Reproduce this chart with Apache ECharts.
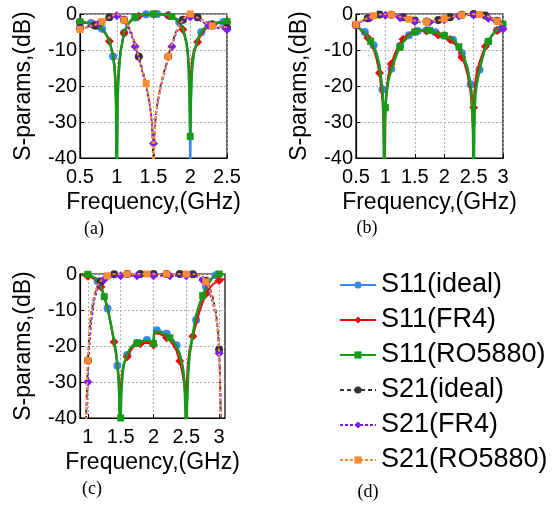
<!DOCTYPE html>
<html><head><meta charset="utf-8">
<script src="https://cdn.jsdelivr.net/npm/echarts@6/dist/echarts.min.js"></script>
<style>html,body{margin:0;padding:0;background:#fff}#c{width:555px;height:506px}</style>
</head><body><div id="c"></div>
<script>
// ---------- names & tick labels ----------
const NAMES = ['S11(ideal)','S11(FR4)','S11(RO5880)','S21(ideal)','S21(FR4)','S21(RO5880)'];
const ticksXA = [0.5,1,1.5,2,2.5];
const ticksXB = [0.5,1,1.5,2,2.5,3];
const ticksXC = [1,1.5,2,2.5,3];
const ticksY = [-40,-30,-20,-10,0];

// ---------- panel (a) ----------
const fA = [0.5,0.55,0.6,0.65,0.7,0.75,0.8,0.85,0.9,0.95, 0.97,0.98,0.99, 1.0, 1.01,1.02,1.03, 1.05,1.1,1.15,1.2,1.25,1.3,1.35,1.4,1.45, 1.47,1.48,1.49, 1.5, 1.51,1.52,1.53, 1.55,1.6,1.65,1.7,1.75,1.8,1.85,1.9,1.95, 1.97,1.98,1.99, 2.0, 2.01,2.02,2.03, 2.05,2.1,2.15,2.2,2.25,2.3,2.35,2.4,2.45,2.5];
const a_s11_ideal = [-2.2,-2.3,-2.4,-2.5,-2.9,-3.4,-4.1,-5.4,-7.4,-11.8, -15.5,-19,-26, -52, -26,-19.5,-16, -11,-5.2,-2.9,-1.7,-1.0,-0.5,-0.25,-0.1,0, 0,0,0, 0, 0,0,0, 0,-0.05,-0.15,-0.35,-0.7,-1.2,-2.2,-3.9,-8, -12,-16,-24, -52, -24,-17.5,-14.5, -11,-7.2,-5.1,-3.9,-3.2,-2.8,-2.5,-2.35,-2.25,-2.2];
const a_s11_fr4 = [-2.3,-2.4,-2.5,-2.7,-3.0,-3.5,-4.3,-5.6,-7.6,-11.5, -14.5,-17,-21, -42, -22,-17.5,-14.5, -10.5,-5.3,-3.0,-1.8,-1.1,-0.6,-0.35,-0.2,-0.1, -0.1,-0.1,-0.1, -0.1, -0.1,-0.1,-0.1, -0.1,-0.15,-0.25,-0.45,-0.8,-1.4,-2.5,-4.3,-8.3, -11.5,-14,-17, -20, -17,-14,-12, -10.2,-7.8,-5.6,-4.3,-3.5,-3.0,-2.7,-2.5,-2.4,-2.3];
const a_s11_ro = [-2.2,-2.3,-2.4,-2.6,-2.9,-3.4,-4.1,-5.4,-7.4,-11.6, -15,-18.5,-25, -55, -25,-19,-15.5, -10.8,-5.1,-2.8,-1.6,-0.9,-0.45,-0.2,-0.1,0, 0,0,0, 0, 0,0,0, 0,-0.05,-0.15,-0.35,-0.7,-1.2,-2.2,-3.9,-8, -12,-16,-23, -34, -23,-17,-14, -10.8,-7,-5,-3.8,-3.1,-2.7,-2.4,-2.3,-2.2,-2.1];
const a_s21_ideal = [-3.9,-3.7,-3.5,-3.4,-3.2,-2.7,-2.1,-1.5,-0.9,-0.4, -0.25,-0.15,-0.1, -0.1, -0.15,-0.2,-0.3, -0.6,-1.6,-3.1,-5.2,-8.2,-11.8,-15.5,-19.5,-25, -28.5,-31,-36, -55, -36,-31,-28.5, -25,-19.5,-15.5,-11.8,-8.2,-5.2,-3.1,-1.6,-0.6, -0.3,-0.2,-0.15, -0.1, -0.15,-0.2,-0.3, -0.5,-0.9,-1.5,-2.1,-2.7,-3.2,-3.4,-3.5,-3.7,-3.9];
const a_s21_fr4 = [-4.1,-3.9,-3.7,-3.5,-3.2,-2.8,-2.3,-1.7,-1.1,-0.7, -0.55,-0.5,-0.5, -0.5, -0.55,-0.6,-0.7, -1.0,-2.0,-3.6,-5.8,-9.0,-12.5,-16.2,-20.2,-25.5, -28.5,-31,-34, -36, -34,-31,-28.5, -25.5,-20.2,-16.2,-12.5,-9.0,-5.8,-3.6,-2.0,-1.1, -0.9,-0.8,-0.8, -0.8, -0.85,-0.9,-0.95, -1.0,-1.4,-2.0,-2.6,-3.1,-3.6,-3.8,-4.0,-4.1,-4.3];
const a_s21_ro = [-4.3,-4.0,-3.6,-3.3,-3.0,-2.6,-2.1,-1.5,-0.9,-0.4, -0.2,-0.1,0, 0, -0.05,-0.15,-0.25, -0.6,-1.7,-3.2,-5.4,-8.4,-12,-15.7,-19.3,-25, -28.5,-31.5,-37, -60, -37,-31.5,-28.5, -25,-19.5,-15.7,-11.8,-8.3,-5.2,-3.1,-1.6,-0.5, -0.2,-0.1,0, 0, -0.05,-0.15,-0.25, -0.5,-1.0,-1.6,-2.3,-2.9,-3.3,-3.5,-3.5,-3.6,-3.7];
const marksA = [
  [0.5,0.65,0.8,0.95,1.1,1.25,1.4,1.55,1.7,1.85,2.0,2.15,2.3,2.45],
  [0.5,0.7,0.9,1.1,1.3,1.5,1.7,1.9,2.1,2.3,2.5],
  [0.5,0.75,1.0,1.25,1.5,1.75,2.0,2.25,2.5],
  [0.5,0.7,0.9,1.1,1.3,1.5,1.7,1.9,2.1,2.3,2.5],
  [0.5,0.75,1.0,1.25,1.5,1.75,2.0,2.25,2.5],
  [0.5,0.8,1.1,1.4,1.7,2.0,2.3]
];

// ---------- panel (b) ----------
const fB = [0.5,0.55,0.6,0.65,0.7,0.75,0.8,0.85,0.9,0.95, 0.96,0.97,0.98,0.99, 1.0,1.02, 1.05,1.1,1.15,1.2,1.25,1.3,1.35,1.4,1.45,1.5,1.55,1.6,1.65,1.7,1.75,1.8,1.85,1.9,1.95,2.0,2.05,2.1,2.15,2.2,2.25,2.3,2.35,2.4,2.45, 2.47,2.48,2.49, 2.5, 2.51,2.52,2.53, 2.55,2.6,2.65,2.7,2.75,2.8,2.85,2.9,2.95,3.0];
const b_s11_ideal = [-3.0,-3.8,-4.5,-5.0,-6.0,-7.2,-8.7,-10.8,-14.0,-21, -25,-30,-55,-30, -25,-21, -18,-15.2,-12.6,-10.5,-8.8,-7.5,-6.6,-5.9,-5.4, -5.0,-4.7,-4.55,-4.5,-4.5,-4.6,-4.8,-5.1,-5.4,-5.7, -6.0,-6.4,-6.8,-7.2,-8.0,-9.2,-10.9,-12.6,-15,-19.5, -22.5,-25.5,-31, -55, -32,-25,-22, -19.5,-15.5,-12.2,-9.6,-7.7,-6.3,-5.3,-4.5,-3.7,-2.9];
const b_s11_fr4 = [-3.0,-3.9,-4.8,-5.6,-6.6,-8.0,-9.8,-12.5,-16.4,-24, -27,-32,-40,-50, -28,-21, -17,-13.9,-11.5,-9.6,-8.1,-7.0,-6.2,-5.6,-5.2, -4.9,-4.7,-4.6,-4.6,-4.7,-4.9,-5.2,-5.5,-5.8,-6.0, -6.2,-6.6,-7.1,-7.8,-8.7,-10.0,-12.0,-14.0,-17.0,-22.0, -26,-29.5,-32, -26, -22.5,-20.5,-18.8, -16.5,-13.4,-11,-9.0,-7.4,-6.2,-5.3,-4.6,-3.9,-3.2];
const b_s11_ro = [-3.0,-3.8,-4.6,-5.3,-6.3,-7.6,-9.1,-11.2,-14.5,-21, -24,-29,-55,-31, -26,-22, -18.5,-15.6,-13,-10.9,-9.2,-7.8,-6.8,-6.0,-5.4, -5.0,-4.7,-4.5,-4.45,-4.45,-4.6,-4.8,-5.1,-5.4,-5.7, -6.0,-6.3,-6.7,-7.1,-7.9,-9.1,-10.8,-12.8,-15.5,-20, -23,-27,-33, -55, -33,-26,-22.5, -19.8,-15.6,-12.2,-9.5,-7.6,-6.2,-5.2,-4.4,-3.6,-2.8];
const fBs = [0.5,0.55,0.6,0.65,0.7,0.75,0.8,0.85,0.9,0.95, 1.0,1.05,1.1,1.15,1.2,1.25,1.3,1.35,1.4,1.45, 1.5,1.55,1.6,1.65,1.7,1.75,1.8,1.85,1.9,1.95, 2.0,2.05,2.1,2.15,2.2,2.25,2.3,2.35,2.4,2.45, 2.5,2.55,2.6,2.65,2.7,2.75,2.8,2.85,2.9,2.95, 3.0];
const b_s21_ideal = [-3.0,-2.4,-2.0,-1.6,-1.2,-0.8,-0.45,-0.25,-0.15,-0.1, -0.05,-0.1,-0.2,-0.35,-0.5,-0.7,-0.9,-1.15,-1.4,-1.6, -1.8,-1.95,-2.05,-2.1,-2.1,-2.05,-1.95,-1.85,-1.7,-1.5, -1.3,-1.1,-0.9,-0.7,-0.5,-0.35,-0.2,-0.1,-0.05,0, 0,-0.05,-0.1,-0.2,-0.4,-0.7,-1.0,-1.4,-1.9,-2.5, -3.2];
const b_s21_fr4 = [-3.1,-2.5,-2.1,-1.7,-1.3,-0.95,-0.65,-0.5,-0.4,-0.35, -0.35,-0.4,-0.5,-0.65,-0.85,-1.05,-1.3,-1.5,-1.7,-1.9, -2.05,-2.2,-2.3,-2.35,-2.35,-2.3,-2.2,-2.1,-1.95,-1.8, -1.6,-1.35,-1.1,-0.9,-0.7,-0.55,-0.45,-0.35,-0.3,-0.3, -0.3,-0.35,-0.45,-0.6,-0.85,-1.2,-1.6,-2.1,-2.7,-3.4, -4.2];
const b_s21_ro = [-2.9,-2.3,-1.9,-1.5,-1.1,-0.75,-0.45,-0.25,-0.15,-0.1, -0.1,-0.12,-0.2,-0.35,-0.55,-0.75,-0.95,-1.2,-1.45,-1.65, -1.85,-2.0,-2.1,-2.15,-2.15,-2.1,-2.0,-1.9,-1.75,-1.55, -1.35,-1.15,-0.95,-0.75,-0.55,-0.4,-0.25,-0.15,-0.1,-0.05, -0.05,-0.1,-0.15,-0.25,-0.45,-0.75,-1.1,-1.5,-2.0,-2.5, -3.0];
const marksB = [
  [0.5,0.65,0.8,0.95,1.1,1.25,1.4,1.55,1.7,1.85,2.0,2.15,2.3,2.45,2.6,2.75,2.9],
  [0.5,0.7,0.9,1.1,1.3,1.5,1.7,1.9,2.1,2.3,2.5,2.7,2.9],
  [0.5,0.75,1.0,1.25,1.5,1.75,2.0,2.25,2.5,2.75,3.0],
  [0.5,0.7,0.9,1.1,1.3,1.5,1.7,1.9,2.1,2.3,2.5,2.7,2.9],
  [0.5,0.75,1.0,1.25,1.5,1.75,2.0,2.25,2.5,2.75,3.0],
  [0.5,0.8,1.1,1.4,1.7,2.0,2.3,2.6,2.9]
];

// ---------- panel (c) ----------
const fC11 = [0.9,0.95,1.0,1.05,1.1,1.15,1.2,1.25,1.3,1.35,1.4, 1.43,1.45,1.47,1.48, 1.49, 1.5,1.51,1.53,1.55, 1.6,1.65,1.7,1.75,1.8,1.85,1.9,1.95,2.0, 2.01, 2.05,2.1,2.15,2.2,2.25,2.3,2.35,2.4, 2.43,2.45,2.47,2.48,2.49, 2.5, 2.51,2.53,2.55, 2.6,2.65,2.7,2.75,2.8,2.85,2.9,2.95,3.0,3.05, 3.09];
const c_s11_ideal = [0,-0.05,-0.3,-0.7,-1.2,-2.0,-3.5,-6.0,-9.6,-14,-19, -22,-25.5,-30,-35, -55, -38,-32,-27,-25, -22.5,-20.8,-19.8,-19.2,-18.8,-18.5,-18.3,-18.5,-19.2, -15.6, -15.6,-15.8,-16.1,-16.6,-17.3,-18.3,-19.8,-22.0, -24,-26,-29,-32,-37, -55, -36,-27,-22, -16.8,-12.8,-9.0,-5.8,-3.5,-1.9,-0.9,-0.35,-0.1,0, 0];
const c_s11_fr4 = [-0.3,-0.4,-0.6,-0.9,-1.4,-2.2,-3.6,-6.0,-9.4,-14,-18.9, -22.5,-25,-28.5,-31, -34, -32,-29.5,-26.5,-24.8, -23,-21.3,-20.2,-19.7,-19.4,-19.2,-19.1,-19.3,-19.7, -16.5, -16.5,-16.7,-17.1,-17.7,-18.5,-19.6,-21.3,-24.2, -26.5,-28.5,-31,-33,-35, -33, -29,-24,-21, -17.3,-13.8,-10.5,-7.8,-5.5,-4.0,-3.0,-2.3,-1.8,-1.5, -1.3];
const c_s11_ro = [0,0,-0.1,-0.5,-1.0,-1.9,-3.5,-6.3,-9.6,-13.8,-18.6, -22,-25,-30,-35, -55, -40,-33,-27.5,-25, -22.2,-20.5,-19.6,-19.2,-18.9,-18.6,-18.5,-18.7,-19.3, -16, -16,-16.2,-16.6,-17.1,-17.7,-18.6,-20.1,-22.3, -24.5,-26.5,-30,-34,-40, -55, -37,-27.5,-22.5, -16.5,-11.5,-8.4,-6.0,-4.0,-2.3,-1.0,-0.3,0,0, 0];
const fC21 = [0.95,0.96,0.97,0.98,0.99, 1.0,1.02,1.05, 1.1,1.15,1.2,1.25,1.3,1.35,1.4, 1.5,1.6,1.7,1.75,1.8,1.9,2.0,2.1,2.2,2.25,2.3,2.4,2.5,2.6, 2.65,2.7,2.75,2.8,2.85,2.9,2.95, 2.98,3.0, 3.01,3.02,3.03,3.04,3.05];
const c_s21_ideal = [-60,-50,-42,-35,-30, -24,-17,-11, -5.8,-3.3,-2.1,-1.3,-0.7,-0.3,-0.1, 0,0,0,0,0,0,0,0,0,0,0,0,0,-0.05, -0.15,-0.4,-0.9,-1.9,-3.5,-6.2,-10.5, -15,-21, -26,-33,-45,-55,-60];
const c_s21_fr4 = [-60,-52,-45,-38,-34, -30,-21,-13.5, -7.0,-4.0,-2.4,-1.5,-1.0,-0.7,-0.6, -0.5,-0.5,-0.5,-0.5,-0.5,-0.5,-0.5,-0.5,-0.5,-0.5,-0.5,-0.5,-0.5,-0.55, -0.7,-1.0,-1.7,-3.3,-5.0,-7.7,-11.5, -16,-22, -27,-33,-42,-55,-60];
const c_s21_ro = [-60,-55,-45,-36,-30, -24,-16.5,-10.5, -5.5,-3.0,-1.8,-1.0,-0.5,-0.2,-0.05, 0,0,0,0,0,0,0,0,0,0,0,0,0,-0.05, -0.15,-0.4,-1.0,-2.2,-4.0,-6.8,-11, -16,-22, -28,-36,-50,-60,-60];
const marksC = [
  [1.0,1.15,1.3,1.45,1.6,1.75,1.9,2.05,2.2,2.35,2.5,2.65,2.8,2.95],
  [1.0,1.2,1.4,1.6,1.8,2.0,2.2,2.4,2.6,2.8,3.0],
  [1.0,1.25,1.5,1.75,2.0,2.25,2.5,2.75,3.0],
  [1.0,1.2,1.4,1.6,1.8,2.0,2.2,2.4,2.6,2.8,3.0],
  [1.0,1.25,1.5,1.75,2.0,2.25,2.5,2.75,3.0],
  [1.0,1.3,1.6,1.9,2.2,2.5,2.8]
];

// ---------- styling (kept separate from data) ----------
const FONT = '"Liberation Sans", Arial, sans-serif';
const STYLE = [
  {color:'#3d86f6', symbol:'circle',  size:8, width:2,   dash:'solid'},
  {color:'#ee0a0a', symbol:'diamond', size:9, width:2,   dash:'solid'},
  {color:'#179a17', symbol:'rect',    size:7, width:2.5, dash:'solid'},
  {color:'#333333', symbol:'circle',  size:8, width:1.8, dash:[4,3]},
  {color:'#7a1cf2', symbol:'diamond', size:9, width:1.8, dash:[3,2]},
  {color:'#ff8a30', symbol:'rect',    size:7, width:1.8, dash:[3,2]}
];
const PANELS = [
  {f:[fA,fA,fA,fA,fA,fA], y:[a_s11_ideal,a_s11_fr4,a_s11_ro,a_s21_ideal,a_s21_fr4,a_s21_ro], m:marksA,
   grid:{left:80, top:14, width:147, height:144}, xmin:0.5, xmax:2.5, ticks:ticksXA},
  {f:[fB,fB,fB,fBs,fBs,fBs], y:[b_s11_ideal,b_s11_fr4,b_s11_ro,b_s21_ideal,b_s21_fr4,b_s21_ro], m:marksB,
   grid:{left:356, top:14, width:147, height:144}, xmin:0.5, xmax:3.0, ticks:ticksXB},
  {f:[fC11,fC11,fC11,fC21,fC21,fC21], y:[c_s11_ideal,c_s11_fr4,c_s11_ro,c_s21_ideal,c_s21_fr4,c_s21_ro], m:marksC,
   grid:{left:80, top:274, width:145, height:144}, xmin:0.88, xmax:3.09, ticks:ticksXC}
];

const grids = [], xAxes = [], yAxes = [], series = [];
PANELS.forEach((p, gi) => {
  grids.push(Object.assign({show:true, borderColor:'#000', borderWidth:1.2, backgroundColor:'transparent', containLabel:false, outerBoundsMode:'none'}, p.grid));
  xAxes.push({
    gridIndex:gi, type:'value', min:p.xmin, max:p.xmax,
    name:'Frequency,(GHz)', nameLocation:'middle', nameGap:33,
    nameTextStyle:{fontSize:23, color:'#000', fontFamily:FONT},
    axisLine:{show:true, onZero:false, lineStyle:{color:'#000', width:1.2}},
    axisTick:{show:true, inside:true, length:4, customValues:p.ticks, lineStyle:{color:'#000'}},
    splitLine:{show:true, lineStyle:{color:'#b0b0b0', type:[2,2], width:1}},
    axisLabel:{customValues:p.ticks, fontSize:20, color:'#000', fontFamily:FONT, margin:9}
  });
  yAxes.push({
    gridIndex:gi, type:'value', min:-40, max:0,
    name:'S-params,(dB)', nameLocation:'middle', nameRotate:90, nameGap:45,
    nameTextStyle:{fontSize:23, color:'#000', fontFamily:FONT},
    axisLine:{show:true, onZero:false, lineStyle:{color:'#000', width:1.2}},
    axisTick:{show:true, inside:true, length:4, customValues:ticksY, lineStyle:{color:'#000'}},
    splitLine:{show:true, lineStyle:{color:'#b0b0b0', type:[2,2], width:1}},
    axisLabel:{customValues:ticksY, fontSize:20, color:'#000', fontFamily:FONT, margin:3}
  });
  NAMES.forEach((name, k) => {
    const st = STYLE[k];
    const marks = p.m[k];
    series.push({
      type:'line', name:name, xAxisIndex:gi, yAxisIndex:gi,
      data:p.f[k].map((x, i) => [x, p.y[k][i]]),
      showSymbol:true, showAllSymbol:true, symbol:st.symbol,
      symbolSize:(v) => marks.some(m => Math.abs(m - v[0]) < 1e-6) ? st.size : 0,
      lineStyle:{color:st.color, width:st.width, type:st.dash},
      itemStyle:{color:st.color, borderWidth:0},
      clip:true, z:2 + k, emphasis:{disabled:true}, silent:true
    });
  });
});

const captions = [['(a)',94,229],['(b)',367,228],['(c)',92,489],['(d)',368,492]];

const chart = echarts.init(document.getElementById('c'), null, {renderer:'canvas'});
chart.setOption({
  animation:false,
  backgroundColor:'#fff',
  textStyle:{fontFamily:FONT},
  grid:grids, xAxis:xAxes, yAxis:yAxes, series:series,
  legend:{
    data:NAMES, orient:'vertical', left:334, top:265,
    itemWidth:36, itemHeight:9, itemGap:5,
    textStyle:{fontSize:27, color:'#000', fontFamily:FONT, lineHeight:30},
    selectedMode:false
  },
  graphic:captions.map(c => ({
    type:'text', x:c[1], y:c[2],
    style:{text:c[0], fontSize:18, fontFamily:'"Liberation Serif", "Times New Roman", serif', fill:'#000',
           align:'center', verticalAlign:'middle', textAlign:'center', textVerticalAlign:'middle'}
  }))
});
</script>
</body></html>
